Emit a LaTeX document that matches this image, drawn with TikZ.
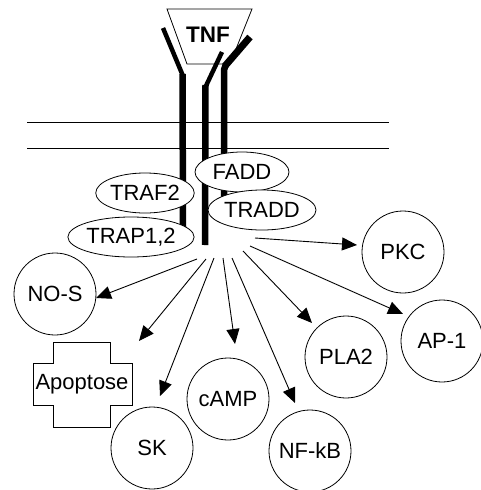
\documentclass[tikz,border=0pt]{standalone}
\usepackage{fontspec}
\setmainfont{Liberation Sans}
\usetikzlibrary{arrows.meta,shapes.geometric}

\tikzset{
	lbl/.style={font=\fontsize{22}{24}\selectfont},
	mol/.style={lbl, draw, ellipse, fill=white, line width=0.8pt, inner sep=0pt},
	target/.style={lbl, draw, circle, line width=0.8pt, minimum size=82pt, inner sep=0pt},
	strand/.style={line width=6.5pt},
	sig/.style={-{Triangle[length=15pt,width=13pt]}, line width=0.9pt}
}

\begin{document}
\begin{tikzpicture}[x=1pt, y=-1pt]
			%%%%% START %%%%%
			\useasboundingbox[fill=white] (0, 0) rectangle (480, 490);
			
			% membrane
			\draw[line width=0.9pt] (27, 122) -- (389, 122);
			\draw[line width=0.9pt] (27, 148) -- (389, 148);
			
			% ligand
			\draw[line width=0.8pt] (167, 9) -- (252, 9) -- (230, 64) -- (187, 64) -- cycle;
			\node[lbl, font=\fontsize{22.5}{24}\selectfont\bfseries] (tnf) at (208, 35) {TNF};
			
			% receptor chains
			\draw[strand, line width=4.5pt] (163, 28) -- (183, 76);
			\draw[strand] (182.5, 74) -- (183, 227);
			\draw[strand, line width=4.5pt] (222, 52) -- (205, 88);
			\draw[strand] (205.5, 85) -- (205, 245);
			\draw[strand, line width=7pt] (250, 37) -- (225, 66);
			\draw[strand] (226, 64) -- (224, 70) -- (224, 205);
			
			% adaptor proteins
			\node[mol, minimum width=94pt, minimum height=40pt] (fadd) at (242, 172) {FADD};
			\node[mol, minimum width=96pt, minimum height=40pt] (traf2) at (145, 193) {TRAF2};
			\node[mol, minimum width=108pt, minimum height=40pt] (tradd) at (262, 210) {TRADD};
			\node[mol, minimum width=122pt, minimum height=40pt] (trap) at (131, 237) {TRAP1,2};
			
			% targets
			\node[target] (pkc) at (403, 252) {PKC};
			\node[target] (nos) at (55, 294) {NO-S};
			\node[target] (ap1) at (442, 341) {AP-1};
			\node[target] (pla2) at (346, 357) {PLA2};
			\node[target] (camp) at (228, 399) {cAMP};
			\node[target] (sk) at (152, 448) {SK};
			\node[target] (nfkb) at (310, 451) {NF-kB};
			
			\draw[line width=0.8pt] (53, 342) -- (110, 342) -- (110, 363) -- (132, 363) -- (132, 405) -- (110, 405)
				-- (110, 427) -- (53, 427) -- (53, 405) -- (33, 405) -- (33, 363) -- (53, 363) -- cycle;
			\node[lbl] (apop) at (82, 384) {Apoptose};
			
			% signals
			\coordinate (pkc-s) at (255, 238);  \coordinate (pkc-t) at (357, 245);
			\coordinate (nos-s) at (197, 259);  \coordinate (nos-t) at (96, 298);
			\coordinate (apop-s) at (206, 259); \coordinate (apop-t) at (139, 341);
			\coordinate (sk-s) at (214, 258);   \coordinate (sk-t) at (160, 396);
			\coordinate (camp-s) at (223, 258); \coordinate (camp-t) at (235, 344);
			\coordinate (nfkb-s) at (232, 258); \coordinate (nfkb-t) at (295, 403);
			\coordinate (pla2-s) at (243, 251); \coordinate (pla2-t) at (312, 323);
			\coordinate (ap1-s) at (250, 246);  \coordinate (ap1-t) at (403, 314);
			
			\foreach \n in {pkc, nos, apop, sk, camp, nfkb, pla2, ap1}
				\draw[sig] (\n-s) -- (\n-t);
			
			%%%%% END %%%%%
\end{tikzpicture}
\end{document}
